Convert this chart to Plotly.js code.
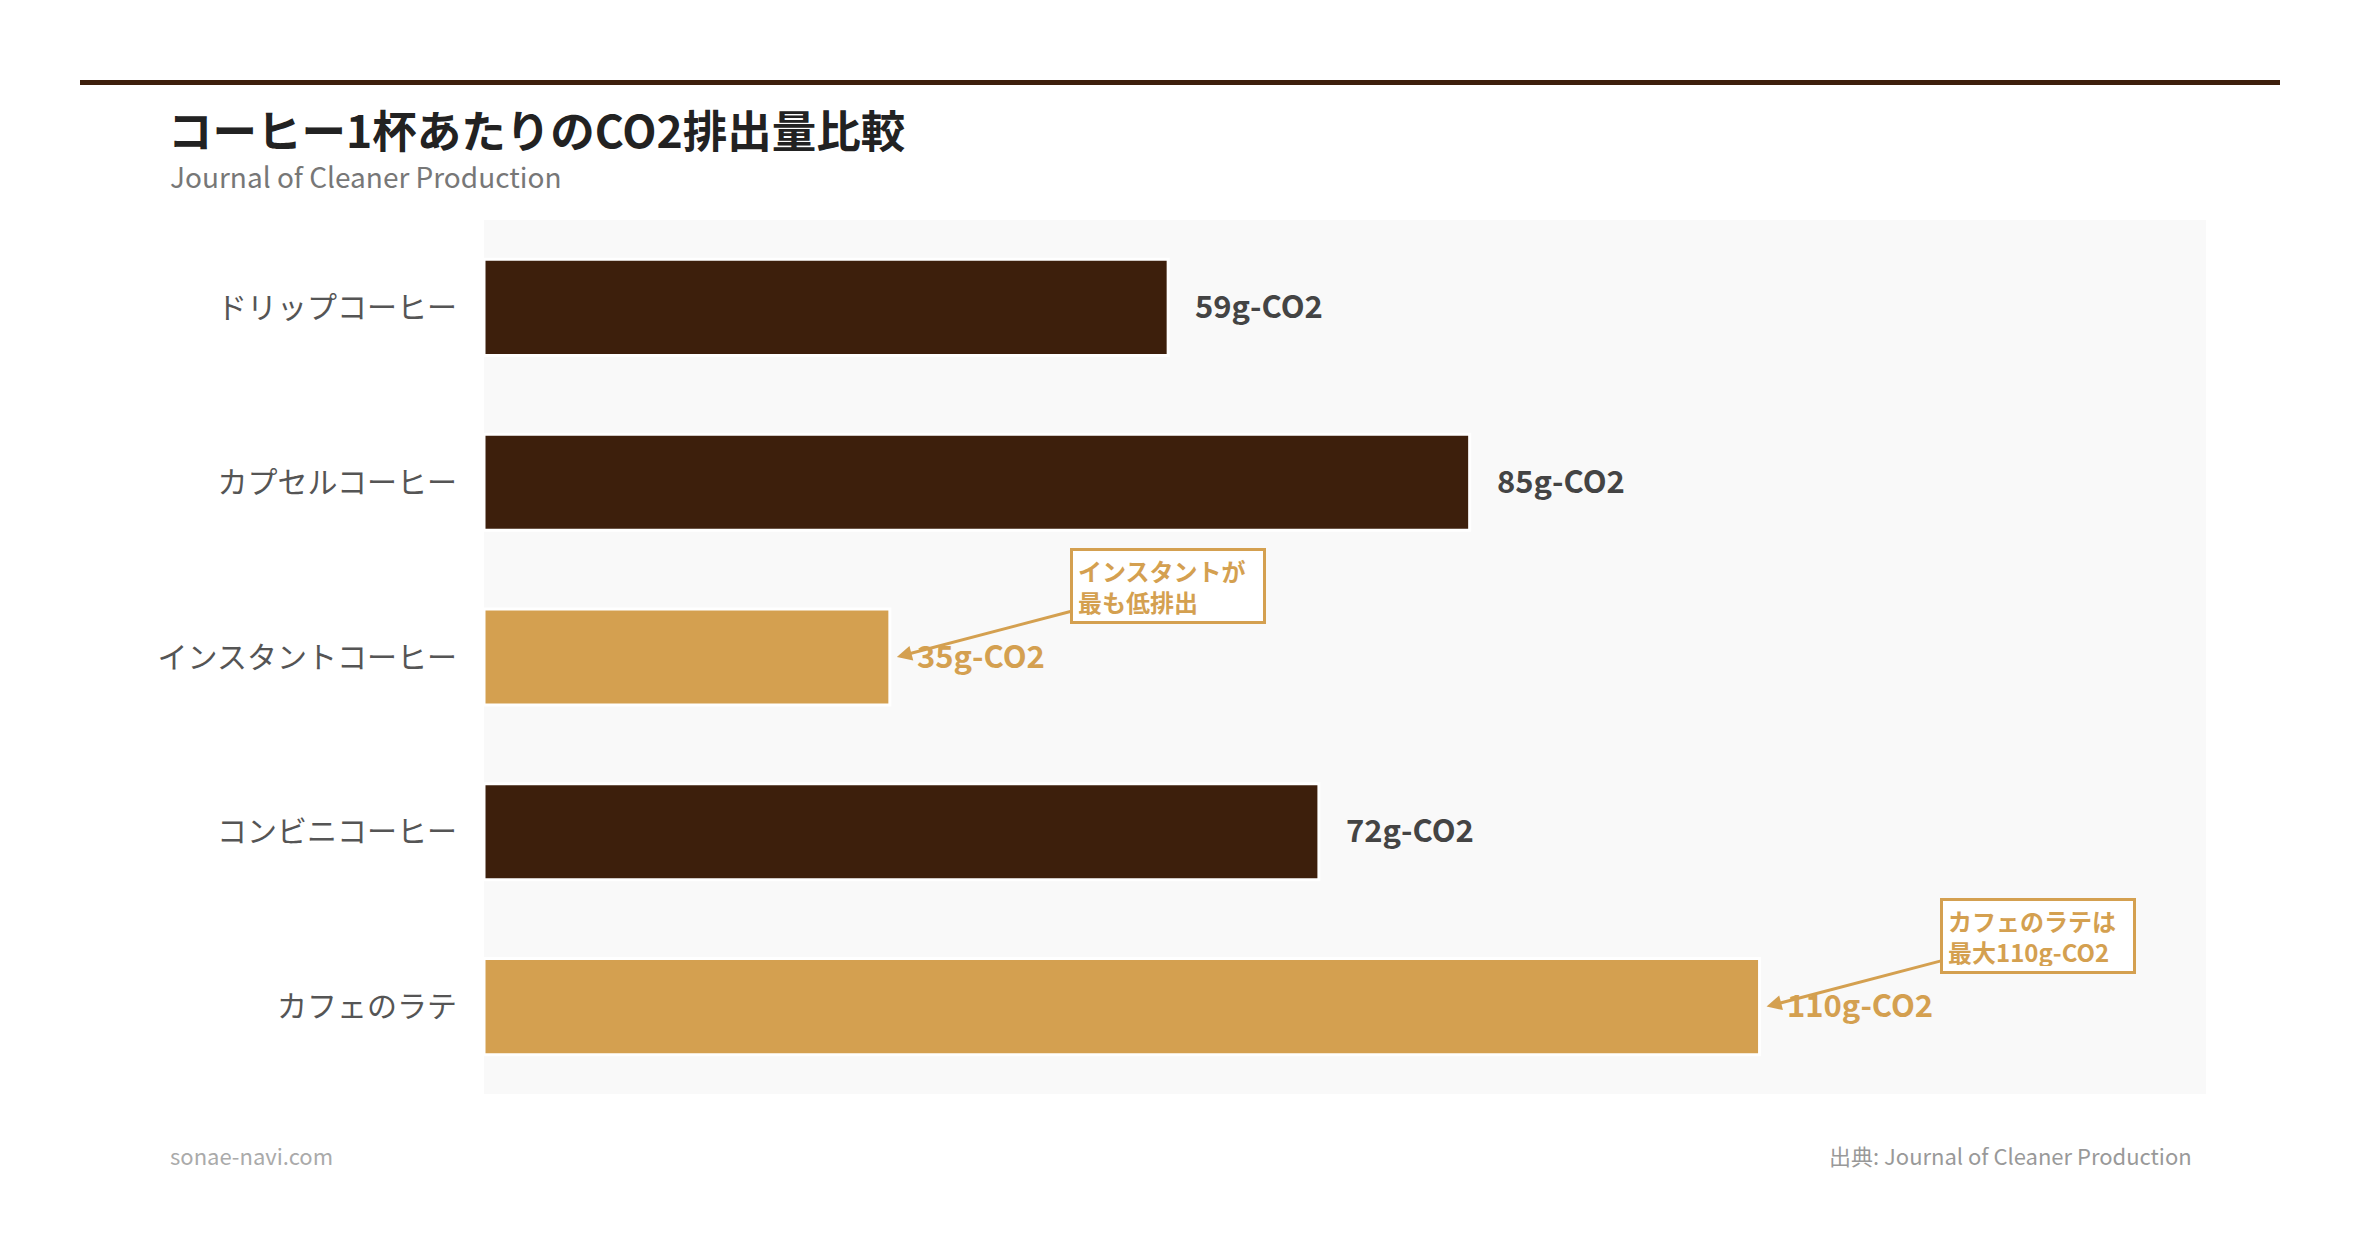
<!DOCTYPE html>
<html>
<head>
<meta charset="utf-8">
<script src="https://cdn.plot.ly/plotly-3.0.1.min.js"></script>
<style>
  html, body { margin: 0; padding: 0; background: #ffffff; }
  #chart { width: 2360px; height: 1248px; }
</style>
</head>
<body>
<div id="chart"></div>
<script>
// data (g-CO2 per cup)
const categories = ["ドリップコーヒー", "カプセルコーヒー", "インスタントコーヒー", "コンビニコーヒー", "カフェのラテ"];
const co2Values = [59, 85, 35, 72, 110];
const highlighted = ["インスタントコーヒー", "カフェのラテ"];
const calloutTexts = {
  "インスタントコーヒー": "インスタントが<br>最も低排出",
  "カフェのラテ": "カフェのラテは<br>最大110g-CO2",
};

const DARK = "#3d1f0c";
const GOLD = "#d4a050";
const FONT = "'Noto Sans CJK JP', 'Noto Sans', sans-serif";

let barColors = categories.map(c => highlighted.includes(c) ? GOLD : DARK);

let bars = {
  type: "bar",
  orientation: "h",
  x: co2Values,
  y: categories,
  width: 0.55,
  marker: {
    color: barColors,
    line: { color: "#ffffff", width: 3 },
  },
  hoverinfo: "skip",
  showlegend: false,
};

// value labels next to bars
let valueLabels = categories.map((c, i) => ({
  x: co2Values[i],
  y: c,
  xref: "x",
  yref: "y",
  text: co2Values[i] + "g-CO2",
  showarrow: false,
  xanchor: "left",
  xshift: 25,
  yshift: 3,
  font: {
    family: FONT,
    size: 31,
    weight: "bold",
    color: highlighted.includes(c) ? GOLD : "#444444",
  },
}));

// callout boxes with arrows
let callouts = highlighted.map(c => {
  let i = categories.indexOf(c);
  return {
    x: co2Values[i],
    y: c,
    xref: "x",
    yref: "y",
    xshift: 7,
    text: calloutTexts[c],
    showarrow: true,
    arrowhead: 2,
    arrowsize: 1,
    arrowwidth: 3,
    arrowcolor: GOLD,
    axref: "pixel",
    ayref: "pixel",
    ax: 271,
    ay: -71,
    align: "left",
    width: 180,
    height: 60,
    bgcolor: "#ffffff",
    bordercolor: GOLD,
    borderwidth: 3,
    borderpad: 5,
    font: { family: FONT, size: 24, weight: "bold", color: GOLD },
  };
});

// plot area: x 484..2206, y 220..1094
const L = 484, R = 154, T = 220, B = 154;
const PW = 2360 - L - R, PH = 1248 - T - B;
const px = v => (v - L) / PW;
const py = v => (1248 - B - v) / PH;

let textNotes = [
  {
    xref: "paper", yref: "paper",
    x: px(168), y: py(176),
    xanchor: "left", yanchor: "middle",
    text: "Journal of Cleaner Production",
    showarrow: false,
    font: { family: FONT, size: 28, color: "#777777" },
  },
  {
    xref: "paper", yref: "paper",
    x: px(168), y: py(1155),
    xanchor: "left", yanchor: "middle",
    text: "sonae-navi.com",
    showarrow: false,
    font: { family: FONT, size: 22, color: "#aaaaaa" },
  },
  {
    xref: "paper", yref: "paper",
    x: px(2194), y: py(1155),
    xanchor: "right", yanchor: "middle",
    text: "出典: Journal of Cleaner Production",
    showarrow: false,
    font: { family: FONT, size: 22, color: "#999999" },
  },
];

let layout = {
  width: 2360,
  height: 1248,
  margin: { l: L, r: R, t: T, b: B },
  paper_bgcolor: "#ffffff",
  plot_bgcolor: "#f9f9f9",
  font: { family: FONT },
  title: {
    text: "コーヒー1杯あたりのCO2排出量比較",
    xref: "container",
    yref: "container",
    x: 168 / 2360,
    xanchor: "left",
    y: 1 - 132 / 1248,
    yanchor: "middle",
    font: { family: FONT, size: 44.5, weight: "bold", color: "#222222" },
  },
  xaxis: {
    range: [0, 148.5],
    visible: false,
    showgrid: false,
    zeroline: false,
    fixedrange: true,
  },
  yaxis: {
    range: [categories.length - 0.5, -0.5],
    autorange: false,
    showgrid: false,
    zeroline: false,
    showline: false,
    ticks: "",
    ticklabelstandoff: 26,
    tickfont: { family: FONT, size: 30, color: "#555555" },
    fixedrange: true,
  },
  bargap: 0.45,
  shapes: [
    {
      type: "line",
      xref: "paper", yref: "paper",
      x0: px(80), x1: px(2280),
      y0: py(82.5), y1: py(82.5),
      line: { color: DARK, width: 5 },
    },
  ],
  annotations: [...valueLabels, ...callouts, ...textNotes],
};

Plotly.newPlot("chart", [bars], layout, {
  displayModeBar: false,
  staticPlot: true,
});
</script>
</body>
</html>
